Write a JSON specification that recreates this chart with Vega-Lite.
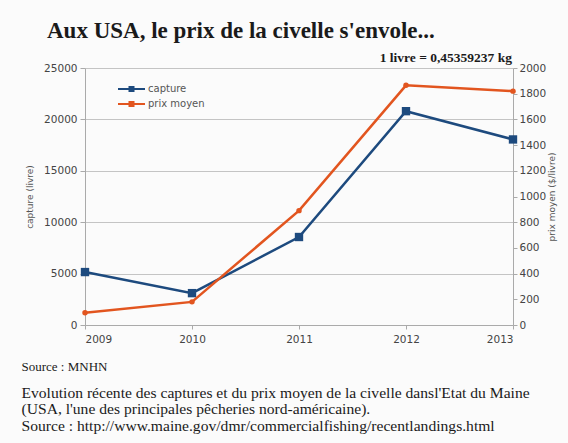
{
  "$schema": "https://vega.github.io/schema/vega-lite/v6.json",
  "width": 428,
  "height": 257,
  "autosize": {"type": "none"},
  "padding": {"left": 85, "top": 68, "right": 55, "bottom": 118},
  "background": "#fbfbfb",
  "title": {
    "text": "Aux USA, le prix de la civelle s'envole...",
    "anchor": "start",
    "frame": "group",
    "dx": -38,
    "offset": 8,
    "font": "Liberation Serif",
    "fontSize": 23,
    "fontWeight": "bold",
    "color": "#1a1a1a"
  },
  "data": {
    "values": [
      {"year": 2009, "capture": 5150, "prix": 95},
      {"year": 2010, "capture": 3100, "prix": 180},
      {"year": 2011, "capture": 8560, "prix": 890},
      {"year": 2012, "capture": 20800, "prix": 1865},
      {"year": 2013, "capture": 18050, "prix": 1820}
    ]
  },
  "layer": [
    {
      "mark": {"type": "line", "strokeWidth": 2.5, "point": {"shape": "square", "size": 70, "filled": true}},
      "encoding": {
        "x": {
          "field": "year", "type": "quantitative",
          "scale": {"domain": [2009, 2013], "nice": false},
          "axis": {
            "orient": "bottom", "values": [2009, 2010, 2011, 2012, 2013], "format": "d",
            "grid": false, "tickSize": 4, "tickColor": "#aaaaaa", "domainColor": "#aaaaaa",
            "labelFont": "DejaVu Sans", "labelFontSize": 10.5, "labelColor": "#444444", "labelPadding": 5,
            "title": [
              "Evolution récente des captures et du prix moyen de la civelle dansl'Etat du Maine",
              "(USA, l'une des principales pêcheries nord-américaine).",
              "Source : http://www.maine.gov/dmr/commercialfishing/recentlandings.html"
            ],
            "titleFont": "Liberation Serif", "titleFontSize": 15.6, "titleFontWeight": "normal",
            "titleColor": "#1a1a1a", "titleAlign": "left", "titleAnchor": "start",
            "titleX": -64, "titleY": 72, "titleBaseline": "alphabetic", "titleLineHeight": 16.5
          }
        },
        "y": {
          "field": "capture", "type": "quantitative",
          "scale": {"domain": [0, 25000], "nice": false},
          "axis": {
            "orient": "left", "values": [0, 5000, 10000, 15000, 20000, 25000], "format": "d",
            "grid": true, "gridColor": "#c4c4c4", "tickSize": 5, "tickColor": "#aaaaaa", "domainColor": "#aaaaaa",
            "labelFont": "DejaVu Sans", "labelFontSize": 10.5, "labelColor": "#444444", "labelPadding": 3,
            "title": "capture (livre)", "titleFont": "DejaVu Sans", "titleFontSize": 9,
            "titleFontWeight": "normal", "titleColor": "#555555", "titlePadding": 9
          }
        },
        "color": {
          "datum": "capture", "type": "nominal",
          "scale": {"domain": ["capture", "prix moyen"], "range": ["#1d4a7e", "#e2551f"]},
          "legend": {
            "title": null, "orient": "none", "legendX": 36.5, "legendY": 11, "padding": 0,
            "symbolType": "M-1.35,-0.1H1.35V0.1H-1.35Z M-0.3,-0.3H0.3V0.3H-0.3Z",
            "symbolSize": 400, "symbolStrokeWidth": 0, "rowPadding": -4, "labelOffset": 6.5,
            "labelFont": "DejaVu Sans", "labelFontSize": 10, "labelColor": "#555555",
            "encode": {"symbols": {"update": {"fill": {"scale": "color", "field": "value"}, "opacity": {"value": 1}}}}
          }
        }
      }
    },
    {
      "mark": {"type": "line", "strokeWidth": 2.5, "point": {"shape": "circle", "size": 30, "filled": true}},
      "encoding": {
        "x": {
          "field": "year", "type": "quantitative",
          "axis": {
            "orient": "bottom", "labels": false, "ticks": false, "domain": false, "grid": false,
            "title": "Source : MNHN", "titleFont": "Liberation Serif", "titleFontSize": 13,
            "titleFontWeight": "normal", "titleColor": "#1a1a1a", "titleAlign": "left", "titleAnchor": "start",
            "titleX": -64, "titleY": 45, "titleBaseline": "alphabetic"
          }
        },
        "y": {
          "field": "prix", "type": "quantitative",
          "scale": {"domain": [0, 2000], "nice": false},
          "axis": {
            "orient": "right", "values": [0, 200, 400, 600, 800, 1000, 1200, 1400, 1600, 1800, 2000], "format": "d",
            "grid": false, "tickSize": 4, "tickColor": "#aaaaaa", "domainColor": "#aaaaaa",
            "labelFont": "DejaVu Sans", "labelFontSize": 10.5, "labelColor": "#444444", "labelPadding": 2,
            "title": "prix moyen ($/livre)", "titleFont": "DejaVu Sans", "titleFontSize": 9,
            "titleFontWeight": "normal", "titleColor": "#555555", "titlePadding": 2,
            "titleAngle": 270, "titleBaseline": "top"
          }
        },
        "color": {"datum": "prix moyen", "type": "nominal"}
      }
    },
    {
      "data": {"values": [{"year": 2013, "note": "1 livre = 0,45359237 kg"}]},
      "mark": {
        "type": "text", "align": "right", "baseline": "alphabetic", "dx": -1, "dy": -6,
        "font": "Liberation Serif", "fontSize": 13.5, "fontWeight": "bold", "color": "#1a1a1a"
      },
      "encoding": {
        "x": {"field": "year", "type": "quantitative", "axis": null},
        "y": {"datum": 25000, "type": "quantitative", "scale": {"domain": [0, 25000], "nice": false}, "axis": null},
        "text": {"field": "note"}
      }
    }
  ],
  "resolve": {"scale": {"y": "independent"}, "axis": {"x": "independent"}},
  "config": {"view": {"stroke": null}}
}
